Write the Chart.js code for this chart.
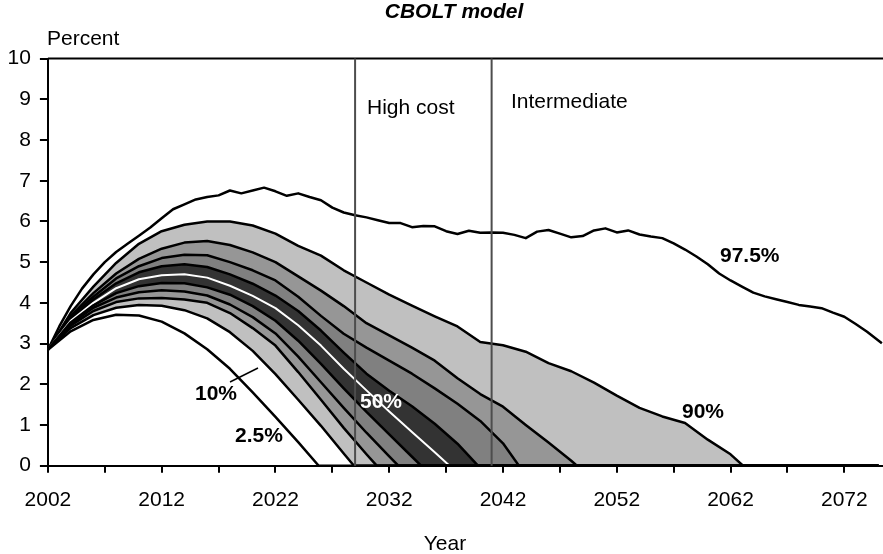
<!DOCTYPE html>
<html><head><meta charset="utf-8">
<script src="https://cdn.jsdelivr.net/npm/chart.js@4.4.0/dist/chart.umd.min.js"></script>
<style>html,body{margin:0;padding:0;background:#fff;overflow:hidden}canvas{display:block}</style>
</head><body>
<canvas id="c" width="883" height="554"></canvas>
<script>
// ---------- data ----------
const years025 = [2002,2004,2006,2008,2010,2012,2014,2016,2018,2020,2022,2024,2025.8,2075];
const p025     = [2.85,3.30,3.58,3.71,3.69,3.54,3.25,2.86,2.38,1.80,1.20,0.58,0,0];

const years10 = [2002,2004,2006,2008,2010,2012,2014,2016,2018,2020,2022,2024,2026,2028,2028.9,2075];
const p10     = [2.85,3.38,3.70,3.88,3.95,3.93,3.82,3.62,3.28,2.82,2.25,1.62,0.98,0.30,0,0];

const years20 = [2002,2004,2006,2008,2010,2012,2014,2016,2018,2020,2022,2024,2026,2028,2030,2030.9,2075];
const p20     = [2.85,3.44,3.80,4.02,4.11,4.12,4.08,4.00,3.75,3.38,2.95,2.30,1.62,0.93,0.28,0,0];

const years30 = [2002,2004,2006,2008,2010,2012,2014,2016,2018,2020,2022,2024,2026,2028,2030,2032,2032.8,2075];
const p30     = [2.85,3.48,3.88,4.13,4.26,4.31,4.28,4.18,3.96,3.65,3.25,2.68,2.05,1.42,0.81,0.23,0,0];

const years40 = [2002,2004,2006,2008,2010,2012,2014,2016,2018,2020,2022,2024,2026,2028,2030,2032,2034,2034.8,2075];
const p40     = [2.85,3.52,3.94,4.24,4.41,4.49,4.48,4.38,4.20,3.92,3.56,3.07,2.50,1.90,1.32,0.77,0.22,0,0];

const years50 = [2002,2004,2006,2008,2010,2012,2014,2016,2018,2020,2022,2024,2026,2028,2030,2032,2034,2036,2037.3,2075];
const p50     = [2.85,3.56,4.00,4.36,4.58,4.68,4.70,4.62,4.42,4.17,3.87,3.45,2.95,2.38,1.85,1.33,0.83,0.33,0,0];

const years60 = [2002,2004,2006,2008,2010,2012,2014,2016,2018,2020,2022,2024,2026,2028,2030,2032,2034,2036,2038,2039.8,2075];
const p60     = [2.85,3.60,4.08,4.48,4.75,4.90,4.95,4.88,4.70,4.47,4.18,3.80,3.32,2.78,2.26,1.84,1.46,1.03,0.54,0,0];

const years70 = [2002,2004,2006,2008,2010,2012,2014,2016,2018,2020,2022,2024,2026,2028,2030,2032,2034,2036,2038,2040,2042,2043.4,2075];
const p70     = [2.85,3.64,4.15,4.60,4.90,5.10,5.18,5.17,5.00,4.80,4.55,4.15,3.68,3.24,2.90,2.58,2.26,1.90,1.52,1.10,0.55,0,0];

const years80 = [2002,2004,2006,2008,2010,2012,2014,2016,2018,2020,2022,2024,2026,2028,2030,2032,2034,2036,2038,2040,2042,2044,2046,2048,2048.5,2075];
const p80     = [2.85,3.68,4.24,4.72,5.08,5.33,5.48,5.52,5.42,5.24,5.00,4.65,4.30,3.92,3.50,3.20,2.90,2.58,2.15,1.76,1.45,1.00,0.57,0.12,0,0];

const years90 = [2002,2004,2006,2008,2010,2012,2014,2016,2018,2020,2022,2024,2026,2028,2030,2032,2034,2036,2038,2040,2042,2044,2046,2048,2050,2052,2054,2056,2058,2060,2062,2063.1,2075];
const p90     = [2.85,3.75,4.40,4.98,5.45,5.76,5.92,6.00,6.00,5.90,5.70,5.40,5.16,4.80,4.50,4.20,3.93,3.67,3.42,3.04,2.96,2.80,2.52,2.32,2.04,1.72,1.42,1.21,1.05,0.64,0.28,0,0];

const years975 = [2002,2003,2004,2005,2006,2007,2008,2009,2010,2011,2012,2013,2014,2015,2016,2017,2018,2019,2020,2021,2022,2023,2024,2025,2026,2027,2028,2029,2030,2031,2032,2033,2034,2035,2036,2037,2038,2039,2040,2041,2042,2043,2044,2045,2046,2047,2048,2049,2050,2051,2052,2053,2054,2055,2056,2057,2058,2059,2060,2061,2062,2063,2064,2065,2066,2067,2068,2069,2070,2071,2072,2073,2074,2075.3];
const p975     = [2.85,3.42,3.92,4.35,4.70,5.00,5.25,5.45,5.65,5.85,6.08,6.30,6.42,6.54,6.60,6.64,6.76,6.69,6.76,6.83,6.74,6.63,6.69,6.60,6.52,6.34,6.22,6.15,6.10,6.03,5.96,5.96,5.86,5.89,5.88,5.76,5.69,5.77,5.72,5.73,5.72,5.67,5.59,5.75,5.79,5.70,5.61,5.64,5.78,5.83,5.73,5.78,5.68,5.63,5.59,5.46,5.31,5.14,4.95,4.72,4.55,4.40,4.25,4.16,4.09,4.02,3.95,3.91,3.87,3.76,3.66,3.48,3.29,3.01];

const xTickYears = [2002,2007,2012,2017,2022,2027,2032,2037,2042,2047,2052,2057,2062,2067,2072];
const yTicks = [0,1,2,3,4,5,6,7,8,9,10];
const markerYears = [2029, 2041];
const markerLabels = ['High cost', 'Intermediate'];

// ---------- chart ----------
const FONT = "'Liberation Sans', Arial, sans-serif";
const pts = (xs, ys) => xs.map((x, i) => ({x, y: ys[i]}));
const line = (label, xs, ys, extra) => Object.assign({
  label, data: pts(xs, ys), borderColor: '#000', borderWidth: 2.5,
  pointRadius: 0, tension: 0, fill: false, borderJoinStyle: 'round'
}, extra || {});

const datasets = [
  line('2.5%', years025, p025),
  line('10%', years10, p10),
  line('20%', years20, p20, {fill: '-1', backgroundColor: '#c0c0c0'}),
  line('30%', years30, p30, {fill: '-1', backgroundColor: '#969696'}),
  line('40%', years40, p40, {fill: '-1', backgroundColor: '#808080'}),
  line('50%', years50, p50, {fill: '-1', backgroundColor: '#333333', borderColor: '#ffffff', borderWidth: 2}),
  line('60%', years60, p60, {fill: '-1', backgroundColor: '#333333'}),
  line('70%', years70, p70, {fill: '-1', backgroundColor: '#808080'}),
  line('80%', years80, p80, {fill: '-1', backgroundColor: '#969696'}),
  line('90%', years90, p90, {fill: '-1', backgroundColor: '#c0c0c0'}),
  line('97.5%', years975, p975)
];

const overlay = {
  id: 'overlay',
  afterDatasetsDraw(chart) {
    const {ctx, chartArea: a, scales: {x}} = chart;
    ctx.save();
    // top frame line
    ctx.strokeStyle = '#000'; ctx.lineWidth = 2;
    ctx.beginPath(); ctx.moveTo(a.left, a.top); ctx.lineTo(a.right, a.top); ctx.stroke();
    // trust-fund exhaustion markers
    ctx.strokeStyle = '#4d4d4d'; ctx.lineWidth = 2;
    markerYears.forEach(yr => {
      const px = x.getPixelForValue(yr);
      ctx.beginPath(); ctx.moveTo(px, a.top); ctx.lineTo(px, a.bottom); ctx.stroke();
    });
    ctx.fillStyle = '#000';
    ctx.font = '21px ' + FONT;
    ctx.textBaseline = 'alphabetic'; ctx.textAlign = 'left';
    ctx.fillText(markerLabels[0], 367, 114);
    ctx.fillText(markerLabels[1], 511, 108);
    // series labels
    ctx.font = 'bold 21px ' + FONT;
    ctx.fillText('97.5%', 720, 262);
    ctx.fillText('90%', 682, 418);
    ctx.fillText('10%', 195, 400);
    ctx.fillText('2.5%', 235, 442);
    ctx.fillStyle = '#fff';
    ctx.fillText('50%', 360, 408);
    // leader for 10%
    ctx.strokeStyle = '#000'; ctx.lineWidth = 1.5;
    ctx.beginPath(); ctx.moveTo(230, 382); ctx.lineTo(258, 368); ctx.stroke();
    // titles
    ctx.fillStyle = '#000';
    ctx.font = 'italic bold 21px ' + FONT;
    ctx.textAlign = 'center';
    ctx.fillText('CBOLT model', 454, 18);
    ctx.font = '21px ' + FONT;
    ctx.textAlign = 'left';
    ctx.fillText('Percent', 47, 45);
    ctx.textAlign = 'center';
    ctx.fillText('Year', 445, 550);
    ctx.restore();
  }
};

new Chart(document.getElementById('c'), {
  type: 'line',
  data: {datasets},
  plugins: [overlay],
  options: {
    responsive: false, animation: false, devicePixelRatio: 1,
    layout: {padding: {top: 58.6, right: 0, bottom: 0, left: 0}},
    plugins: {legend: {display: false}, tooltip: {enabled: false}, filler: {drawTime: 'beforeDatasetsDraw'}},
    scales: {
      x: {
        type: 'linear', min: 2002, max: 2075.4,
        afterBuildTicks: s => { s.ticks = xTickYears.map(v => ({value: v})); },
        afterFit: s => { s.height = 554 - 465.7; },
        border: {color: '#000', width: 2},
        grid: {drawOnChartArea: false, drawTicks: true, tickLength: 7, color: '#000', lineWidth: 2},
        ticks: {autoSkip: false, maxRotation: 0, padding: 15, color: '#000',
          font: {family: FONT, size: 21},
          callback: v => ((v - 2002) % 10 === 0 ? String(v) : '')}
      },
      y: {
        min: 0, max: 10,
        afterBuildTicks: s => { s.ticks = yTicks.map(v => ({value: v})); },
        afterFit: s => { s.width = 47.9; },
        border: {color: '#000', width: 2},
        grid: {drawOnChartArea: false, drawTicks: true, tickLength: 8, color: '#000', lineWidth: 2},
        ticks: {padding: 9, color: '#000', font: {family: FONT, size: 21}, callback: v => String(v)}
      }
    }
  }
});
</script>
</body></html>
